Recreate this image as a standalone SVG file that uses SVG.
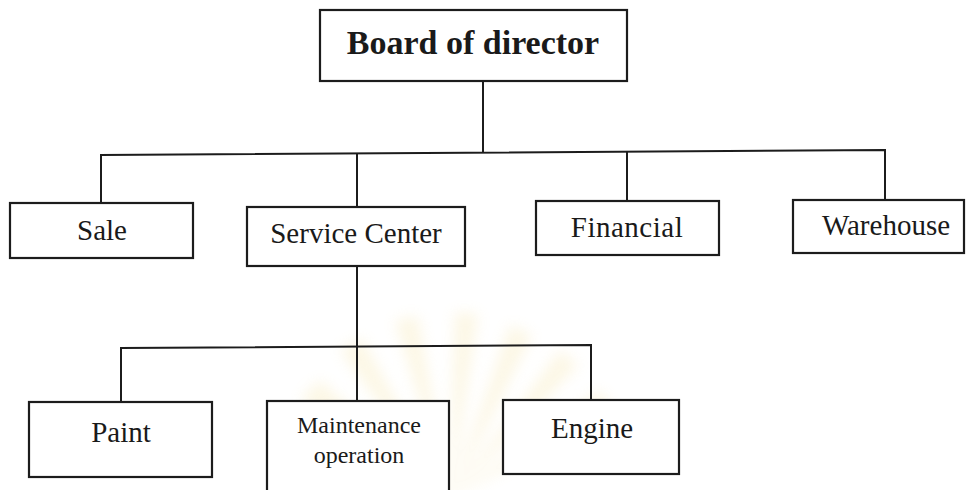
<svg xmlns="http://www.w3.org/2000/svg" width="970" height="490" viewBox="0 0 970 490">
  <style>
    .box { fill: #ffffff; stroke: #1c1c1c; stroke-width: 2.2; }
    .wire { fill: none; stroke: #1c1c1c; stroke-width: 2; }
    text { font-family: 'Liberation Serif', 'Times New Roman', 'DejaVu Serif', serif; fill: #1a1a1a; text-anchor: middle; }
    .title { font-size: 34px; font-weight: bold; }
    .big { font-size: 29px; }
    .small { font-size: 24px; }
  </style>
  <defs>
    <filter id="soft" x="-20%" y="-20%" width="140%" height="140%">
      <feGaussianBlur stdDeviation="7"/>
    </filter>
  </defs>
  <rect width="970" height="490" fill="#ffffff"/>

  <!-- faint sunburst emblem in the background -->
  <g id="emblem" fill="#f3dc8c" opacity="0.22" filter="url(#soft)">
    <polygon points="450,500 300,400 320,380"/>
    <polygon points="450,500 340,350 362,338"/>
    <polygon points="450,500 395,320 418,316"/>
    <polygon points="450,500 455,312 478,314"/>
    <polygon points="450,500 510,325 532,335"/>
    <polygon points="450,500 560,350 578,365"/>
    <polygon points="450,500 600,390 612,408"/>
  </g>

  <!-- connectors -->
  <g id="connectors">
    <line class="wire" x1="483" y1="81" x2="483" y2="153"/>
    <polyline class="wire" points="101,203 101,155 885,150 885,200"/>
    <line class="wire" x1="357" y1="154" x2="357" y2="207"/>
    <line class="wire" x1="627" y1="152" x2="627" y2="201"/>
    <line class="wire" x1="357" y1="266" x2="357" y2="401"/>
    <polyline class="wire" points="121,402 121,348 591,345 591,400"/>
  </g>

  <g id="board">
    <rect class="box" x="320" y="10" width="307" height="71"/>
    <text class="title" x="473" y="54">Board of director</text>
  </g>

  <g id="sale">
    <rect class="box" x="10" y="203" width="183" height="55"/>
    <text class="big" x="102" y="240">Sale</text>
  </g>

  <g id="service-center">
    <rect class="box" x="247" y="207" width="218" height="59"/>
    <text class="big" x="356" y="243">Service Center</text>
  </g>

  <g id="financial">
    <rect class="box" x="536" y="201" width="183" height="54"/>
    <text class="big" x="627" y="237" letter-spacing="0.5">Financial</text>
  </g>

  <g id="warehouse">
    <rect class="box" x="793" y="200" width="171" height="53"/>
    <text class="big" x="886" y="235">Warehouse</text>
  </g>

  <g id="paint">
    <rect class="box" x="29" y="402" width="183" height="75"/>
    <text class="big" x="121" y="442">Paint</text>
  </g>

  <g id="maintenance">
    <rect class="box" x="267" y="401" width="182" height="95"/>
    <text class="small" x="359" y="433">Maintenance</text>
    <text class="small" x="359" y="463">operation</text>
  </g>

  <g id="engine">
    <rect class="box" x="503" y="400" width="176" height="74"/>
    <text class="big" x="592" y="438">Engine</text>
  </g>
</svg>
